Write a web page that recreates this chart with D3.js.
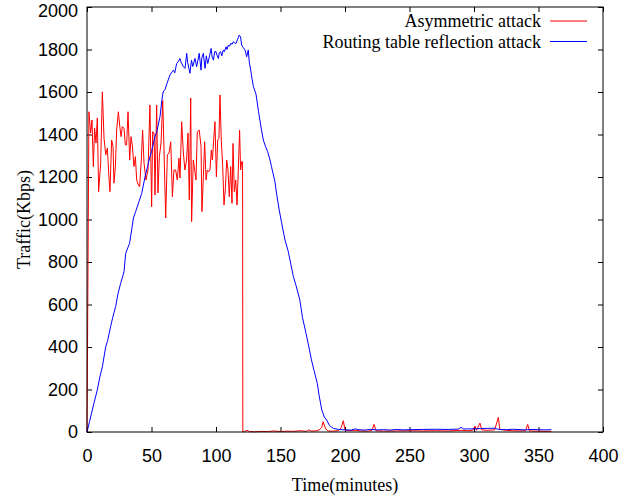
<!DOCTYPE html>
<meta charset="utf-8">
<body style="margin: 0; overflow: hidden; background: #fff">
<script src="https://d3js.org/d3.v7.min.js"></script>
<script>
    // axis settings
    var xTicks = [0, 50, 100, 150, 200, 250, 300, 350, 400];
    var yTicks = [0, 200, 400, 600, 800, 1000, 1200, 1400, 1600, 1800, 2000];
    var seriesNames = ["Asymmetric attack", "Routing table reflection attack"];

    // [minute, Kbps]
    var asymmetric = [
        [0, 0], [1.5, 1507], [2.8, 1407], [3.9, 1468], [4.9, 1249], [5.9, 1430], [7, 1360], [8, 1478],
        [9, 1131], [10.6, 1266], [11.9, 1601], [13.2, 1383], [14.5, 1304], [15.8, 1336], [16.8, 1218],
        [17.8, 1131], [19.1, 1374], [20.2, 1343], [20.9, 1171], [22, 1249], [23, 1421], [24.3, 1507],
        [25.3, 1445], [26.4, 1390], [27.4, 1437], [28.7, 1429], [29.7, 1351], [30.7, 1351], [31.8, 1507],
        [33.1, 1280], [34.1, 1390], [35.1, 1351], [36.4, 1249], [37.5, 1296], [38.5, 1186], [39.8, 1162],
        [40.8, 1154], [42.1, 1280], [43.1, 1421], [44.2, 1266], [45.7, 1186], [47.3, 1233], [48.8, 1539],
        [50.1, 1060], [50.9, 1413], [52, 1407], [52.7, 1115], [54, 1539], [55, 1125], [56.1, 1296],
        [57.4, 1360], [58.7, 1560], [59.7, 1327], [61, 1007], [62.3, 1304], [63.6, 1313], [64.9, 1366],
        [66.2, 1107], [67.4, 1233], [68.7, 1233], [70, 1186], [71.3, 1289], [72.1, 1195], [73.4, 1460],
        [74.7, 1313], [75.9, 1233], [77.2, 1280], [78.3, 1407], [79.3, 1092], [80.4, 1572], [81.1, 990],
        [82.4, 1280], [83.5, 1233], [84.5, 1186], [85.5, 1413], [87, 1421], [88.4, 1343], [89.1, 1037],
        [90.2, 1201], [91.2, 1366], [92.3, 1186], [93.3, 1233], [94.3, 1225], [95.3, 1233], [96.4, 1327],
        [97.2, 1280], [98.2, 1374], [99.2, 1460], [100.3, 1201], [101.3, 1374], [102.3, 1382], [103.1, 1586],
        [104.1, 1374], [105.2, 1249], [106.2, 1068], [107.2, 1139], [108.3, 1280], [109.3, 1233],
        [110.3, 1107], [111.4, 1249], [112.4, 1076], [113.2, 1358], [114.2, 1131], [115.3, 1186],
        [116.3, 1068], [117.3, 1233], [118.3, 1421], [119.1, 1233], [119.9, 1272], [120.6, 1272],
        [120.8, 0], [122, 2], [124, 8], [126, 2], [130, 1], [135, 3], [140, 2], [145, 5], [150, 2],
        [155, 4], [160, 3], [165, 6], [170, 3], [172, 10], [174, 4], [178, 6], [180, 10], [182, 22],
        [183, 48], [185, 15], [187, 5], [190, 4], [195, 6], [197, 20], [198.7, 53], [200, 10], [203, 6],
        [208, 8], [212, 5], [218, 4], [221, 8], [222.5, 36], [224, 6], [230, 4], [240, 5], [250, 6],
        [260, 5], [270, 6], [280, 5], [290, 8], [295, 6], [299, 8], [300.8, 28], [302, 8], [304.6, 42],
        [306, 10], [310, 8], [316, 10], [318.9, 69], [320, 12], [325, 8], [330, 6], [335, 5], [340, 6],
        [341.6, 36], [343, 5], [350, 4], [355, 3], [360, 3]
    ];

    var reflection = [
        [0, 0], [2, 50], [5.4, 136], [8, 198], [10, 260], [11.9, 307], [14.5, 401], [16, 430],
        [18.3, 496], [20, 540], [22.2, 590], [24, 650], [26.1, 700], [28.7, 754], [30, 841], [33, 888],
        [35, 966], [36, 1007], [37.7, 1037], [40.3, 1084], [42.4, 1123], [45, 1201], [47, 1250],
        [48.8, 1296], [50, 1320], [52.7, 1390], [54, 1410], [56.6, 1484], [58, 1560], [59, 1600],
        [60.5, 1612], [62, 1640], [64.3, 1680], [66, 1695], [67, 1703], [68, 1690], [69.5, 1734],
        [71, 1745], [72, 1758], [73, 1740], [74.7, 1719], [76, 1711], [77.3, 1782], [78, 1740],
        [79.8, 1688], [81, 1750], [82, 1720], [83.7, 1758], [85, 1719], [86, 1750], [87, 1782],
        [88.4, 1703], [89, 1760], [90.2, 1782], [91.5, 1711], [92.5, 1770], [93.6, 1734], [95, 1770],
        [96.2, 1805], [97, 1765], [98, 1750], [99, 1790], [100, 1790], [101, 1770], [101.8, 1758],
        [102.6, 1785], [103.6, 1790], [104.5, 1770], [105.7, 1798], [106.5, 1790], [107.8, 1813],
        [108.5, 1800], [109.6, 1821], [110.5, 1815], [111.4, 1829], [112.5, 1825], [113.5, 1837],
        [114.5, 1830], [115.6, 1829], [116.5, 1845], [117.3, 1855], [118, 1868], [119, 1860],
        [119.9, 1821], [121, 1810], [122.5, 1798], [123.8, 1766], [125, 1798], [125.8, 1740],
        [126.9, 1703], [128, 1660], [129, 1625], [131, 1590], [133, 1507], [135, 1430], [136.7, 1374],
        [138, 1350], [140, 1320], [141.9, 1280], [143, 1249], [145.7, 1178], [147, 1120], [149, 1045],
        [151, 980], [153.5, 904], [156, 850], [158, 790], [160, 731], [162, 690], [165, 621], [167, 540],
        [169.8, 464], [172, 400], [174, 339], [176, 290], [178.5, 229], [180, 170], [182, 104], [184, 70],
        [185.8, 56], [188, 30], [191, 17], [195, 12], [200, 10], [205, 9], [208, 15], [210, 11], [215, 9],
        [220, 12], [225, 10], [230, 11], [235, 9], [240, 12], [245, 10], [250, 11], [260, 12], [270, 13],
        [280, 12], [288, 14], [290, 22], [292, 14], [300, 15], [305, 16], [310, 17], [316, 18], [318, 14],
        [320, 12], [325, 11], [330, 13], [340, 10], [345, 12], [350, 11], [355, 10], [360, 11]
    ];

    var width = 629, height = 497;
    var margin = {left: 87, right: 26, top: 7, bottom: 65};
    var font = "'Liberation Serif', 'Times New Roman', serif";

    var svg = d3.select("body").append("svg")
        .attr("width", width)
        .attr("height", height)
        .style("font-family", font);

    var x = d3.scaleLinear().domain([0, 400]).range([margin.left, width - margin.right]);
    var y = d3.scaleLinear().domain([0, 2000]).range([height - margin.bottom, margin.top]);

    var fixAxis = function (g) {
        g.select(".domain").remove();
        g.selectAll(".tick line").attr("stroke", "#000");
        g.selectAll(".tick text").attr("fill", "#000").style("font-size", "18px");
    };

    // bottom + top ticks (inward)
    svg.append("g")
        .attr("transform", "translate(0," + y(0) + ")")
        .call(d3.axisBottom(x).tickValues(xTicks).tickFormat(d3.format("d"))
            .tickSizeInner(-5).tickSizeOuter(0).tickPadding(17))
        .call(fixAxis);
    svg.append("g")
        .attr("transform", "translate(0," + y(2000) + ")")
        .call(d3.axisTop(x).tickValues(xTicks).tickSizeInner(-5).tickSizeOuter(0).tickFormat(""))
        .call(fixAxis);

    // left + right ticks
    var yAxisG = svg.append("g")
        .attr("transform", "translate(" + x(0) + ",0)")
        .call(d3.axisLeft(y).tickValues(yTicks).tickFormat(d3.format("d"))
            .tickSizeInner(-5).tickSizeOuter(0).tickPadding(9))
        .call(fixAxis);
    // top label sits a little lower so it is not clipped
    yAxisG.selectAll(".tick text")
        .filter(function (d) { return d === 2000; })
        .attr("y", 4);

    svg.append("g")
        .attr("transform", "translate(" + x(400) + ",0)")
        .call(d3.axisRight(y).tickValues(yTicks).tickSizeInner(-5).tickSizeOuter(0).tickFormat(""))
        .call(fixAxis);

    var line = d3.line()
        .x(function (d) { return x(d[0]); })
        .y(function (d) { return y(d[1]); });

    svg.append("path")
        .datum(asymmetric)
        .attr("d", line)
        .attr("fill", "none")
        .attr("stroke", "#ff0000")
        .attr("stroke-width", 1);

    svg.append("path")
        .datum(reflection)
        .attr("d", line)
        .attr("fill", "none")
        .attr("stroke", "#0000ff")
        .attr("stroke-width", 1);

    // frame
    svg.append("rect")
        .attr("x", x(0))
        .attr("y", y(2000))
        .attr("width", x(400) - x(0))
        .attr("height", y(0) - y(2000))
        .attr("fill", "none")
        .attr("stroke", "#000")
        .attr("stroke-width", 1);

    // legend
    var colors = ["#ff0000", "#0000ff"];
    var legend = svg.append("g");
    seriesNames.forEach(function (name, i) {
        var ly = 21 + i * 20.5;
        legend.append("text")
            .attr("x", 541)
            .attr("y", ly)
            .attr("dy", "0.35em")
            .attr("text-anchor", "end")
            .style("font-size", "18px")
            .text(name);
        legend.append("line")
            .attr("x1", 550).attr("x2", 587)
            .attr("y1", ly).attr("y2", ly)
            .attr("stroke", colors[i])
            .attr("stroke-width", 1);
    });

    // axis titles
    svg.append("text")
        .attr("x", (x(0) + x(400)) / 2)
        .attr("y", 491)
        .attr("text-anchor", "middle")
        .style("font-size", "18px")
        .text("Time(minutes)");

    svg.append("text")
        .attr("transform", "translate(30," + (y(1000)) + ") rotate(-90)")
        .attr("text-anchor", "middle")
        .style("font-size", "18px")
        .text("Traffic(Kbps)");
</script>
